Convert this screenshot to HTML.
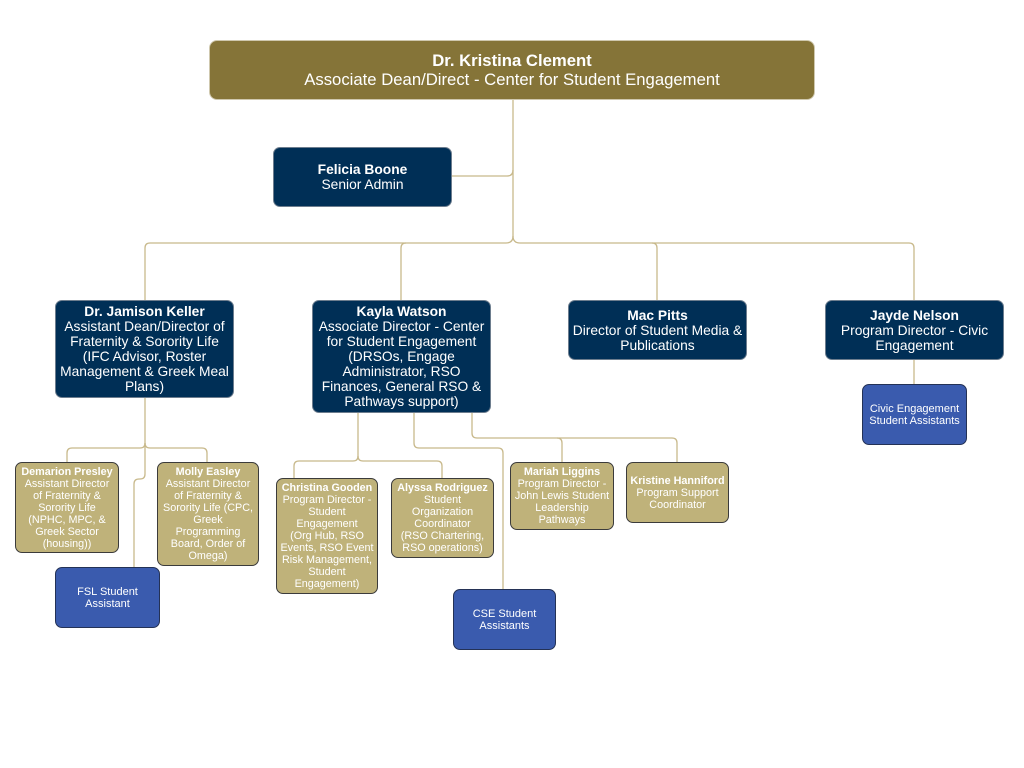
<!DOCTYPE html>
<html><head><meta charset="utf-8"><style>
html,body{margin:0;padding:0;background:#fff;}
body{width:1024px;height:768px;position:relative;overflow:hidden;font-family:"Liberation Sans",Arial,sans-serif;}
svg{position:absolute;left:0;top:0;}
.b{position:absolute;box-sizing:border-box;display:flex;align-items:center;justify-content:center;text-align:center;color:#fff;white-space:nowrap;}
.top{background:#857438;border:1px solid #cfc8ae;border-radius:8px;font-size:16.7px;line-height:19px;}
.nv{background:#002f56;border:1px solid #6d7d8e;border-radius:7px;font-size:13.8px;line-height:15px;}
.tn{background:#bfb27a;border:1px solid #3b3b3b;border-radius:7px;font-size:10.8px;line-height:12px;}
.bl{background:#3a5bae;border:1px solid #243256;border-radius:7px;font-size:11px;line-height:12px;}
b{font-weight:bold;}
</style></head><body>
<svg width="1024" height="768" viewBox="0 0 1024 768">
<g fill="none" stroke="#c8b98b" stroke-width="1.3">
<path d="M513,100 V236 q0,7 -7,7 H150 q-5,0 -5,5 V300"/>
<path d="M513,236 q0,7 7,7 H909 q5,0 5,5 V300"/>
<path d="M406,243 q-5,0 -5,5 V300"/>
<path d="M652,243 q5,0 5,5 V300"/>
<path d="M513,170 q0,6 -6,6 H451"/>
<path d="M145,398 V443 q0,5 -5,5 H72 q-5,0 -5,5 V462"/>
<path d="M145,443 q0,5 5,5 H202 q5,0 5,5 V462"/>
<path d="M145,443 V474 q0,5 -5,5 H139 q-5,0 -5,5 V567"/>
<path d="M358,413 V456 q0,5 -5,5 H299 q-5,0 -5,5 V478"/>
<path d="M358,456 q0,5 5,5 H437 q5,0 5,5 V478"/>
<path d="M414,413 V443 q0,5 5,5 H498 q5,0 5,5 V589"/>
<path d="M472,413 V433 q0,5 5,5 H557 q5,0 5,5 V462"/>
<path d="M557,438 H672 q5,0 5,5 V462"/>
<path d="M914,360 V384"/>
</g>
</svg>

<div class="b top" style="left:209px;top:40px;width:606px;height:60px;"><div><b>Dr. Kristina Clement</b><br>Associate Dean/Direct - Center for Student Engagement</div></div>

<div class="b nv" style="left:273px;top:147px;width:179px;height:60px;"><div><b>Felicia Boone</b><br>Senior Admin</div></div>

<div class="b nv" style="left:55px;top:300px;width:179px;height:98px;"><div><b>Dr. Jamison Keller</b><br>Assistant Dean/Director of<br>Fraternity &amp; Sorority Life<br>(IFC Advisor, Roster<br>Management &amp; Greek Meal<br>Plans)</div></div>

<div class="b nv" style="left:312px;top:300px;width:179px;height:113px;"><div><b>Kayla Watson</b><br>Associate Director - Center<br>for Student Engagement<br>(DRSOs, Engage<br>Administrator, RSO<br>Finances, General RSO &amp;<br>Pathways support)</div></div>

<div class="b nv" style="left:568px;top:300px;width:179px;height:60px;"><div><b>Mac Pitts</b><br>Director of Student Media &amp;<br>Publications</div></div>

<div class="b nv" style="left:825px;top:300px;width:179px;height:60px;"><div><b>Jayde Nelson</b><br>Program Director - Civic<br>Engagement</div></div>

<div class="b bl" style="left:862px;top:384px;width:105px;height:61px;"><div>Civic Engagement<br>Student Assistants</div></div>

<div class="b tn" style="left:15px;top:462px;width:104px;height:91px;"><div><b>Demarion Presley</b><br>Assistant Director<br>of Fraternity &amp;<br>Sorority Life<br>(NPHC, MPC, &amp;<br>Greek Sector<br>(housing))</div></div>

<div class="b tn" style="left:157px;top:462px;width:102px;height:104px;"><div><b>Molly Easley</b><br>Assistant Director<br>of Fraternity &amp;<br>Sorority Life (CPC,<br>Greek<br>Programming<br>Board, Order of<br>Omega)</div></div>

<div class="b bl" style="left:55px;top:567px;width:105px;height:61px;"><div>FSL Student<br>Assistant</div></div>

<div class="b tn" style="left:276px;top:478px;width:102px;height:116px;"><div><b>Christina Gooden</b><br>Program Director -<br>Student<br>Engagement<br>(Org Hub, RSO<br>Events, RSO Event<br>Risk Management,<br>Student<br>Engagement)</div></div>

<div class="b tn" style="left:391px;top:478px;width:103px;height:80px;"><div><b>Alyssa Rodriguez</b><br>Student<br>Organization<br>Coordinator<br>(RSO Chartering,<br>RSO operations)</div></div>

<div class="b bl" style="left:453px;top:589px;width:103px;height:61px;"><div>CSE Student<br>Assistants</div></div>

<div class="b tn" style="left:510px;top:462px;width:104px;height:68px;"><div><b>Mariah Liggins</b><br>Program Director -<br>John Lewis Student<br>Leadership<br>Pathways</div></div>

<div class="b tn" style="left:626px;top:462px;width:103px;height:61px;"><div><b>Kristine Hanniford</b><br>Program Support<br>Coordinator</div></div>

</body></html>
